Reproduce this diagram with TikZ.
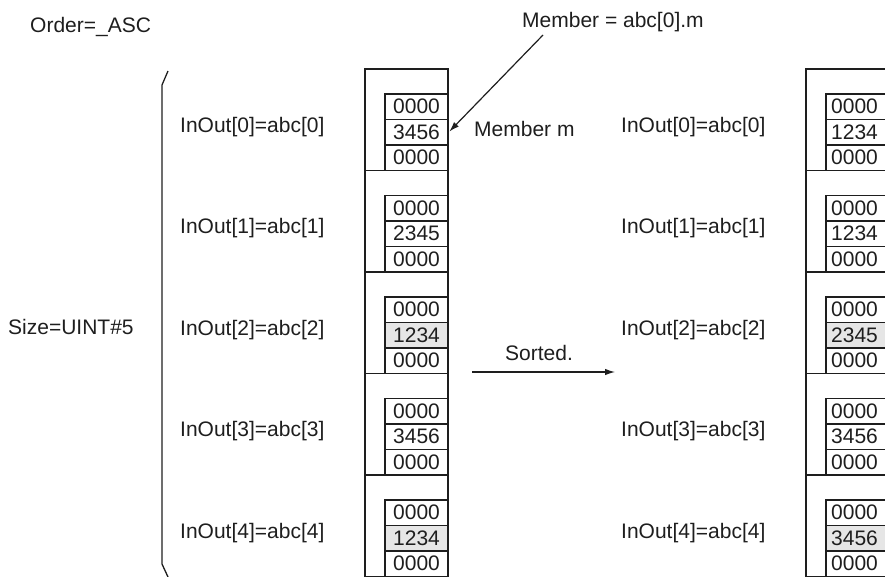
\documentclass[tikz,border=0pt]{standalone}
\usepackage{fontspec}
\setmainfont{Liberation Sans}
\usetikzlibrary{arrows.meta}
\definecolor{ink}{HTML}{1E1E1E}
\definecolor{cellgray}{HTML}{E6E6E6}
\begin{document}
\begin{tikzpicture}[x=1pt,y=-1pt,
  txt/.style={anchor=base west, inner sep=0pt, text=ink, font=\fontsize{21}{24}\selectfont},
  rowbox/.style={draw=ink, line width=1.4pt, minimum width=83pt, minimum height=101.5pt, inner sep=0pt},
  cellbox/.style={draw=ink, line width=1.3pt, minimum width=63pt, minimum height=25.5pt, inner sep=0pt, text=ink, font=\fontsize{21}{24}\selectfont},
  conn/.style={draw=ink, line width=1.2pt},
  tip/.style={-{Latex[length=10pt,width=6.5pt]}}
]
\useasboundingbox (0,0) rectangle (885,576);
\clip (0,0) rectangle (885,576);

% left column
\foreach \i/\v/\g in {0/3456/white,1/2345/white,2/1234/cellgray,3/3456/white,4/1234/cellgray}{
  \pgfmathsetmacro{\top}{69+101.5*\i}
  \node[rowbox] (Lr\i) at (406.5,\top+50.75) {};
  \node[cellbox] (L\i a) at (416.5,\top+37.75) {0000};
  \node[cellbox,fill=\g] (L\i b) at (416.5,\top+63.25) {\v};
  \node[cellbox] (L\i c) at (416.5,\top+88.75) {0000};
  \node[txt] (LL\i) at (180,\top+63.3) {InOut[\i]=abc[\i]};
}
% right column
\foreach \i/\v/\g in {0/1234/white,1/1234/white,2/2345/cellgray,3/3456/white,4/3456/cellgray}{
  \pgfmathsetmacro{\top}{69+101.5*\i}
  \node[rowbox] (Rr\i) at (847.5,\top+50.75) {};
  \node[cellbox] (R\i a) at (857.5,\top+37.75) {\hspace*{-6pt}0000};
  \node[cellbox,fill=\g] (R\i b) at (857.5,\top+63.25) {\hspace*{-6pt}\v};
  \node[cellbox] (R\i c) at (857.5,\top+88.75) {\hspace*{-6pt}0000};
  \node[txt] (RL\i) at (621,\top+63.3) {InOut[\i]=abc[\i]};
}

\node[txt] (order) at (30,32) {Order=\_ASC};
\node[txt] (size) at (8,334) {Size=UINT\#5};
\node[txt] (memtop) at (522,27) {Member = abc[0].m};
\node[txt] (memm) at (474,136) {Member m};
\node[txt] (sorted) at (505,360) {Sorted.};

% member arrow
\coordinate (memstart) at (543,35);
\draw[conn,tip,shorten >=1pt] (memstart) -- (L0b.east);

% sorted arrow
\coordinate (sortA) at (472,372);
\coordinate (sortB) at (615,372);
\draw[conn,tip] (sortA) -- (sortB);

% brace
\coordinate (b1) at (168,71);
\coordinate (b2) at (162,85);
\coordinate (b3) at (162,564);
\coordinate (b4) at (168,577);
\draw[conn,line width=1.3pt] (b1) -- (b2) -- (b3) -- (b4);
\end{tikzpicture}
\end{document}
